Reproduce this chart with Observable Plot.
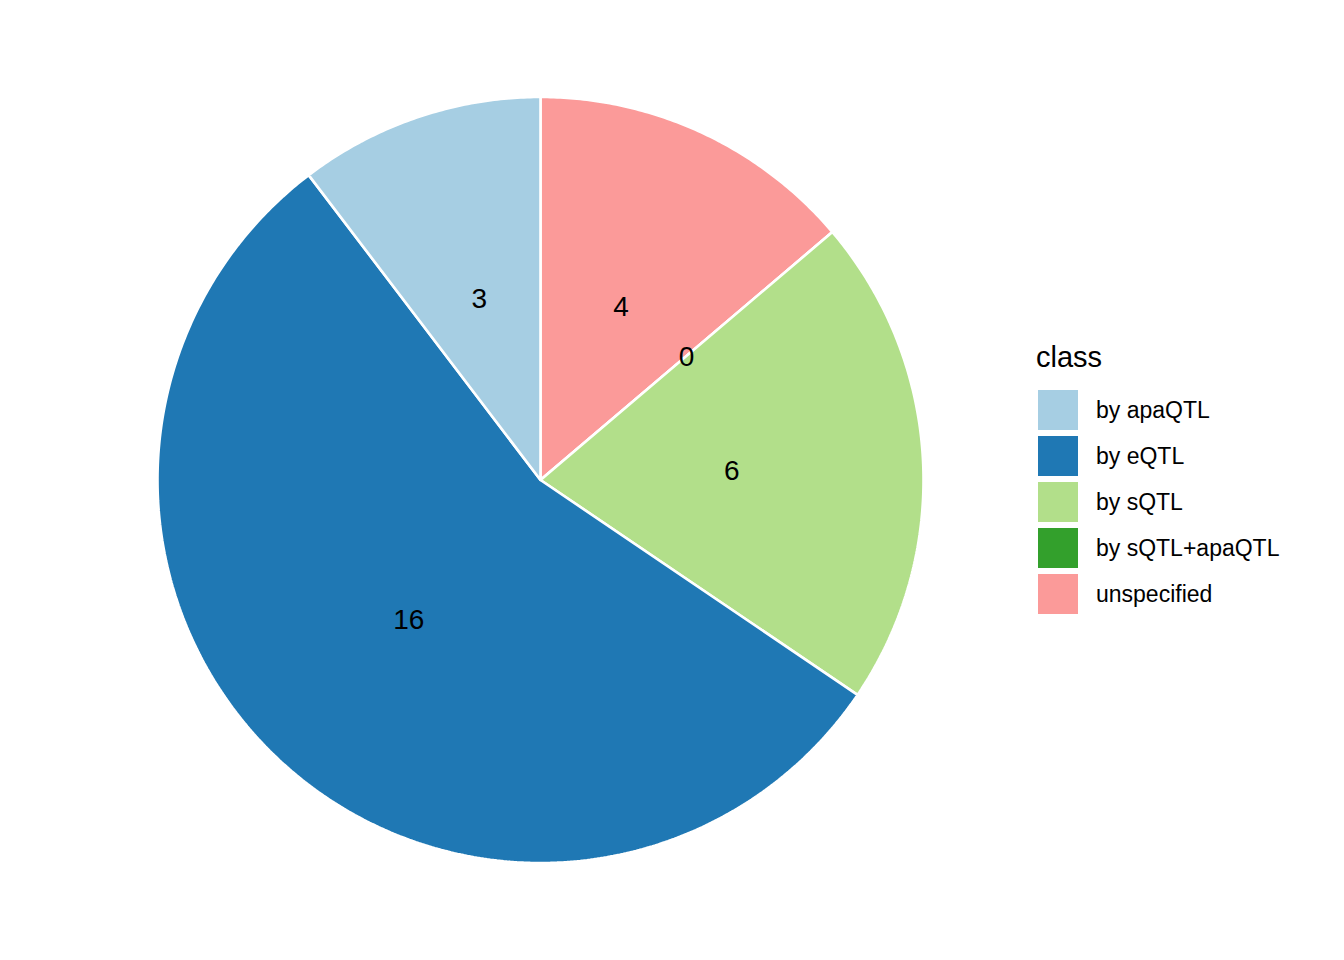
<!DOCTYPE html>
<html>
<head>
<meta charset="utf-8">
<script src="https://cdn.jsdelivr.net/npm/d3@7"></script>
<script src="https://cdn.jsdelivr.net/npm/@observablehq/plot@0.6"></script>
<style>
  html, body { margin: 0; padding: 0; background: #fff; }
  #wrap { position: relative; width: 1344px; height: 960px; font-family: "Liberation Sans", Arial, Helvetica, sans-serif; }
  #legend { position: absolute; left: 1036px; top: 337px; color: #000; }
  #legend .title { font-size: 29px; line-height: 40px; height: 40px; margin-bottom: 10px; }
  #legend .item { display: flex; align-items: center; height: 46px; }
  #legend .key { width: 40px; height: 40px; margin-left: 2px; margin-right: 18px; }
  #legend .lab { font-size: 23px; }
</style>
</head>
<body>
<div id="wrap"></div>
<script>
// Data
const classes = ["by apaQTL", "by eQTL", "by sQTL", "by sQTL+apaQTL", "unspecified"];
const counts = [3, 16, 6, 0, 4];
const palette = ["#A6CEE3", "#1F78B4", "#B2DF8A", "#33A02C", "#FB9A99"];

// Pie layout: clockwise from 12 o'clock, stack order reversed (ggplot coord_polar)
const total = d3.sum(counts);
const order = classes.map((c, i) => i).reverse();
const slices = [];
let acc = 0;
for (const i of order) {
  const a0 = acc / total * 2 * Math.PI;
  acc += counts[i];
  const a1 = acc / total * 2 * Math.PI;
  slices.push({cls: classes[i], value: counts[i], a0, a1});
}

// Polygon points for each slice
const pts = [];
for (const s of slices) {
  pts.push({cls: s.cls, x: 0, y: 0});
  const n = Math.max(1, Math.ceil((s.a1 - s.a0) / (Math.PI / 360)));
  for (let k = 0; k <= n; k++) {
    const a = s.a0 + (s.a1 - s.a0) * k / n;
    pts.push({cls: s.cls, x: Math.sin(a), y: Math.cos(a)});
  }
  pts.push({cls: s.cls, x: 0, y: 0});
}

const labels = slices.map(s => {
  const m = (s.a0 + s.a1) / 2;
  return {cls: s.cls, value: s.value, x: 0.5 * Math.sin(m), y: 0.5 * Math.cos(m)};
});

const cx = 540, cy = 479.5, R = 383;
const plot = Plot.plot({
  width: 1344,
  height: 960,
  style: {fontFamily: '"Liberation Sans", Arial, Helvetica, sans-serif', background: "#fff"},
  x: {domain: [-1, 1], range: [cx - R, cx + R], axis: null},
  y: {domain: [-1, 1], range: [cy + R, cy - R], axis: null},
  color: {type: "ordinal", domain: classes, range: palette},
  marks: [
    Plot.line(pts, {x: "x", y: "y", z: "cls", fill: "cls", stroke: "white", strokeWidth: 2.6, strokeLinejoin: "miter", curve: "linear"}),
    Plot.text(labels, {x: "x", y: "y", text: d => String(d.value), fill: "black", fontSize: 28, textAnchor: "middle", lineAnchor: "middle", dy: 1})
  ]
});

const wrap = document.getElementById("wrap");
wrap.appendChild(plot);

// Legend built from the plot's colour scale
const color = plot.scale("color");
const leg = document.createElement("div");
leg.id = "legend";
const t = document.createElement("div");
t.className = "title";
t.textContent = "class";
leg.appendChild(t);
for (const c of classes) {
  const it = document.createElement("div");
  it.className = "item";
  const k = document.createElement("div");
  k.className = "key";
  k.style.background = color.apply(c);
  const l = document.createElement("div");
  l.className = "lab";
  l.textContent = c;
  it.appendChild(k);
  it.appendChild(l);
  leg.appendChild(it);
}
wrap.appendChild(leg);
</script>
</body>
</html>
